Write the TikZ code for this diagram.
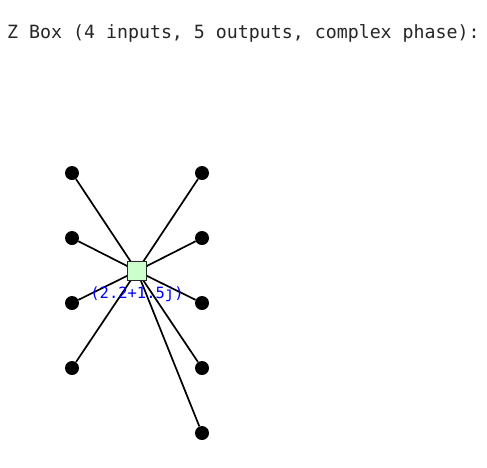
\documentclass[tikz,border=0pt]{standalone}
\usepackage{fontspec}
\setmonofont{DejaVu Sans Mono}
\usetikzlibrary{positioning}
\definecolor{boxgreen}{RGB}{204,255,204}
\definecolor{phaseblue}{RGB}{0,0,255}

\tikzset{
  wire/.style={line width=1.7pt,black},
  leg/.style={circle,fill=black,inner sep=0pt,minimum size=14pt},
  zbox/.style={draw=black!85,fill=boxgreen,line width=1.2pt,inner sep=0pt,minimum size=19pt}
}

\begin{document}
\begin{tikzpicture}[x=1pt,y=-1pt]
        \useasboundingbox (0,0) rectangle (487,467);
        \node[anchor=base west,inner sep=0pt,font=\ttfamily\fontsize{18.25}{20}\selectfont,text=black!85] (title) at (7,38) {Z Box (4 inputs, 5 outputs, complex phase):};
        % inputs on the left, outputs on the right
        \node[leg] (in1) at (72,173) {}; \node[leg] (in2) at (72,238) {}; \node[leg] (in3) at (72,303) {}; \node[leg] (in4) at (72,368) {};
        \node[leg] (out1) at (202,173) {}; \node[leg] (out2) at (202,238) {}; \node[leg] (out3) at (202,303) {}; \node[leg] (out4) at (202,368) {}; \node[leg] (out5) at (202,433) {};
        \coordinate (z) at (137,271);
        \foreach \n in {in1,in2,in3,in4,out1,out2,out3,out4,out5} \draw[wire] (z) -- (\n);
        \node[zbox] (box) at (z) {};
        \node[font=\ttfamily\fontsize{15.5}{17}\selectfont,text=phaseblue,inner sep=0pt] (phase) at (137,294) {(2.2+1.5j)};
      \end{tikzpicture}
\end{document}
